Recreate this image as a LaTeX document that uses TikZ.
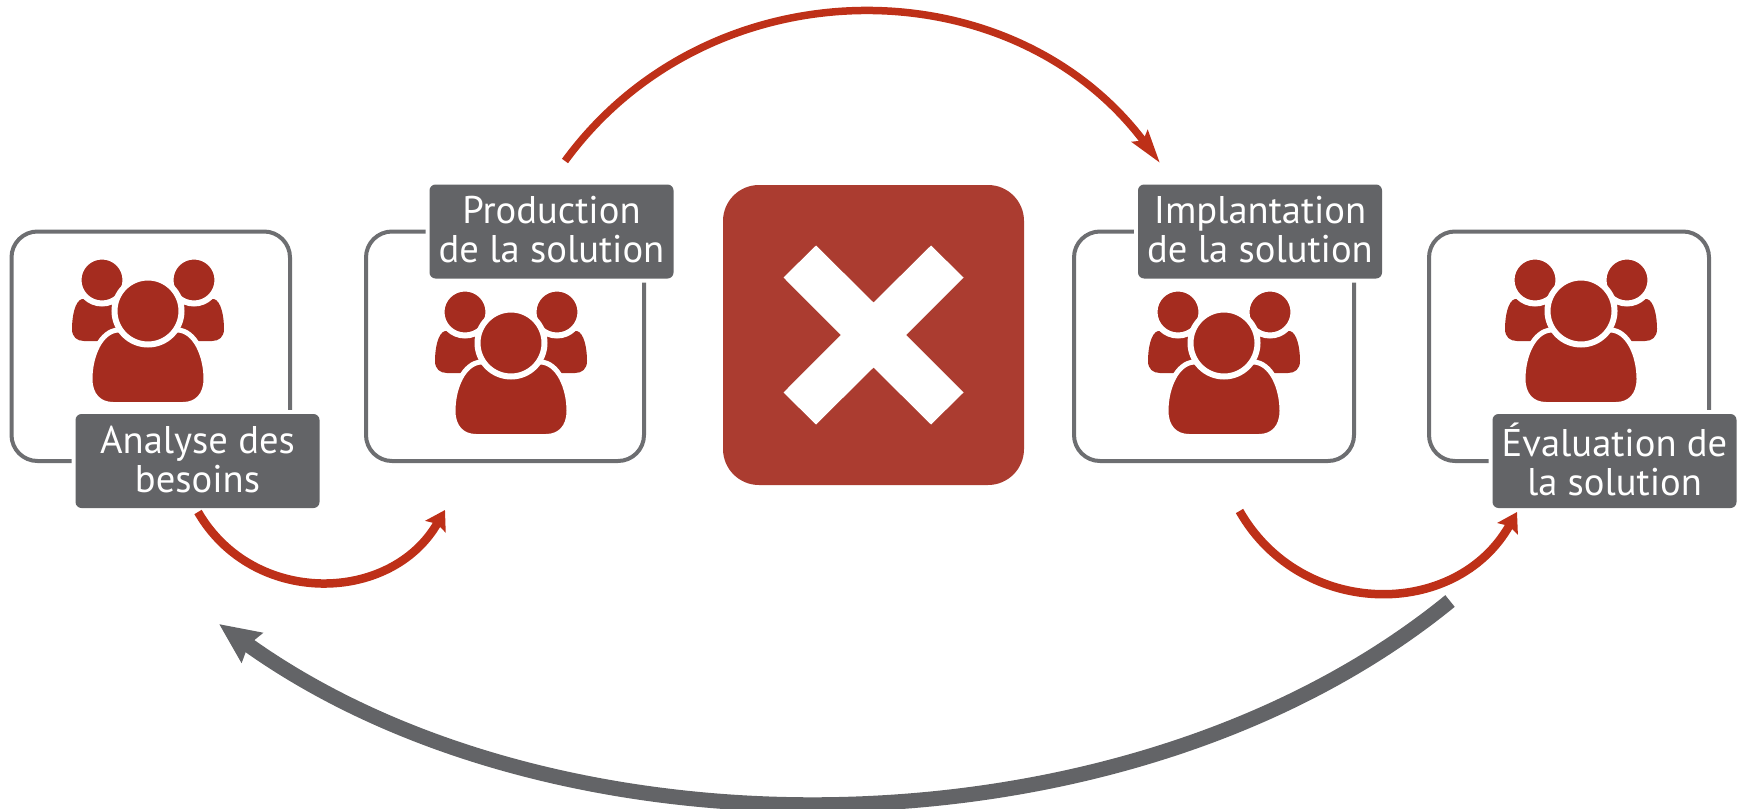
\documentclass[tikz,border=0pt]{standalone}
\usepackage{fontspec}
\setmainfont{PT Sans}
\usetikzlibrary{arrows.meta}
\definecolor{iconred}{HTML}{A52C1F}
\definecolor{arrowred}{HTML}{BE3018}
\definecolor{labelgray}{HTML}{636467}
\definecolor{boxgray}{HTML}{6D6E71}
\definecolor{bigred}{HTML}{AB3C30}
\newcommand\twolines[2]{\raisebox{-10pt}[0pt][0pt]{\begin{tabular}{@{}c@{}}#1\\#2\end{tabular}}}
\tikzset{
  frame/.style={draw=boxgray,line width=4pt,rounded corners=26pt},
  tag/.style={fill=labelgray,text=white,rounded corners=6pt,minimum width=244pt,minimum height=94pt,
     inner sep=0pt,font=\fontsize{38.6}{39}\selectfont,
     preaction={draw=white,line width=8pt}},
  redarrow/.style={draw=arrowred,line width=8.5pt,-{Stealth[length=19pt,width=23pt,inset=3pt]}},
  grayarrow/.style={draw=labelgray,line width=15pt,-{Stealth[length=40pt,width=35pt,inset=4pt]}},
  pics/team/.style={code={
    \begin{scope}
    \foreach \s in {-1,1}{
      \fill[iconred,x=\s pt] (-66,-12) .. controls (-73,-10) and (-76,5) .. (-76,18)
         .. controls (-76,26) and (-71,30) .. (-64,30) -- (-30,30) -- (-25,-12) -- cycle;
      \fill[iconred,x=\s pt,draw=white,line width=6pt] (-46,-31) circle[radius=23.5pt];
    }
    \filldraw[iconred,draw=white,line width=5pt] (-30,19) .. controls (-47,20) and (-58,44) .. (-58,68)
       .. controls (-58,84) and (-49,93.5) .. (-35,93.5) -- (35,93.5)
       .. controls (49,93.5) and (58,84) .. (58,68) .. controls (58,44) and (47,20) .. (30,19) -- cycle;
    \fill[iconred,draw=white,line width=6pt] (0,0) circle[radius=33.5pt];
    \end{scope}
  }}
}
\begin{document}
\begin{tikzpicture}[x=1pt,y=-1pt]
\useasboundingbox (0,0) rectangle (1747,808);
% frames
\draw[frame] (11.5,231.5) rectangle (290,461);
\draw[frame] (366,231.5) rectangle (644,461);
\draw[frame] (1074,231.5) rectangle (1354,461);
\draw[frame] (1429,231.5) rectangle (1709,461);
% icons
\pic at (148,311) {team};
\pic at (511,343) {team};
\pic at (1224,343) {team};
\pic at (1581,311) {team};
% labels
\node[tag] (analyse) at (197.5,461) {\twolines{Analyse des}{besoins}};
\node[tag] (production) at (551.5,231.5) {\twolines{Production}{de la solution}};
\node[tag] (implantation) at (1260,231.5) {\twolines{Implantation}{de la solution}};
\node[tag] (evaluation) at (1614.5,461) {\twolines{Évaluation de}{la solution}};
% central mark
\node[fill=bigred,rounded corners=36pt,minimum width=301pt,minimum height=300pt,inner sep=0pt] (stop) at (873.5,335) {};
\fill[white,shift={(stop.center)}] (-57.5,-89.5) -- (0,-32.5) -- (57.5,-89.5) -- (90,-57.5) -- (32.7,0) -- (90,57.5)
   -- (57.5,89.5) -- (0,32.5) -- (-57.5,89.5) -- (-90,57.5) -- (-32.7,0) -- (-90,-57.5) -- cycle;
% connector ends
\coordinate (a1) at (198,512);
\coordinate (a2) at (445,510);
\coordinate (b1) at (565,161);
\coordinate (b2) at (1160,163);
\coordinate (c1) at (1239.5,511);
\coordinate (c2) at (1517,512);
\coordinate (d1) at (1450,601);
\coordinate (d2) at (219,624);
\draw[redarrow] (a1) .. controls (253,607) and (391,604) .. (a2);
\draw[redarrow,-{Stealth[length=33pt,width=19pt,inset=5pt]},line width=7.5pt] (b1) .. controls (709,-36) and (1010,-37) .. (b2);
\draw[redarrow] (c1) .. controls (1301,619) and (1456,620) .. (c2);
\draw[grayarrow] (d1) .. controls (1130,862) and (560,868) .. (d2);
\end{tikzpicture}
\end{document}
